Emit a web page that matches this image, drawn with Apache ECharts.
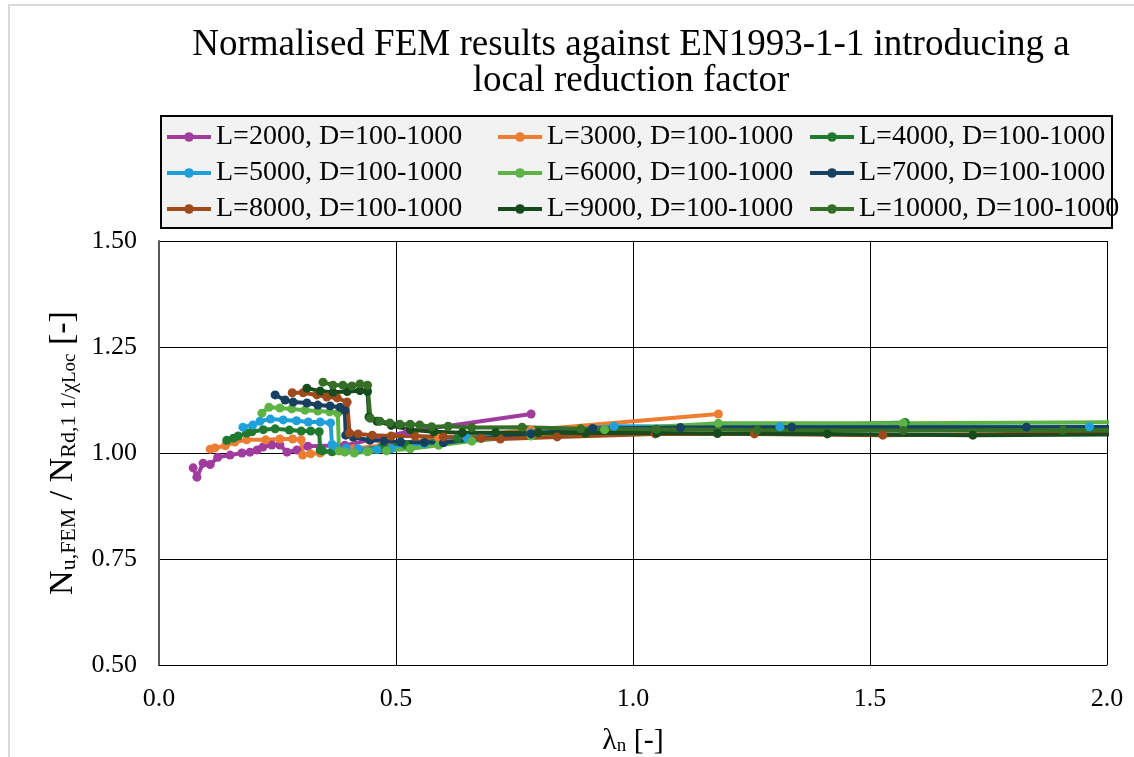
<!DOCTYPE html>
<html>
<head>
<meta charset="utf-8">
<script src="https://cdn.jsdelivr.net/npm/echarts@6/dist/echarts.min.js"></script>
<style>
  html, body { margin: 0; padding: 0; background: #ffffff; }
  #chart { width: 1134px; height: 757px; }
</style>
</head>
<body>
<div id="chart"></div>
<script>
// Normalised FEM ultimate loads vs. EN1993-1-1 resistance with a local reduction factor.
// Each series: one member length L, tube diameters D = 100..1000, as [lambda_n, N_u,FEM / N_Rd] pairs.
const L2000 = [[0.072,0.965],[0.080,0.943],[0.093,0.976],[0.108,0.973],[0.124,0.990],[0.150,0.995],[0.175,1.000],[0.192,1.002],[0.207,1.007],[0.219,1.014],[0.238,1.019],[0.255,1.019],[0.270,1.002],[0.291,1.007],[0.314,1.016],[0.392,1.018],[0.525,1.050],[0.785,1.092]];
const L3000 = [[0.108,1.009],[0.118,1.012],[0.140,1.017],[0.160,1.026],[0.185,1.031],[0.225,1.031],[0.255,1.033],[0.282,1.033],[0.300,1.031],[0.303,0.995],[0.320,0.998],[0.340,1.000],[0.370,1.005],[0.410,1.010],[0.470,1.018],[0.590,1.035],[0.785,1.054],[1.180,1.092]];
const L4000 = [[0.143,1.030],[0.157,1.035],[0.167,1.040],[0.185,1.047],[0.196,1.050],[0.220,1.055],[0.245,1.057],[0.275,1.054],[0.300,1.052],[0.320,1.052],[0.338,1.050],[0.340,1.007],[0.345,1.005],[0.365,1.003],[0.390,1.005],[0.420,1.008],[0.470,1.013],[0.520,1.020],[0.630,1.035],[0.785,1.045],[1.047,1.055],[1.574,1.072]];
const L5000 = [[0.177,1.061],[0.198,1.066],[0.213,1.075],[0.235,1.080],[0.262,1.078],[0.290,1.076],[0.315,1.073],[0.340,1.073],[0.362,1.071],[0.365,1.020],[0.372,1.015],[0.395,1.012],[0.420,1.010],[0.460,1.008],[0.490,1.010],[0.560,1.022],[0.650,1.035],[0.785,1.047],[0.960,1.063],[1.310,1.062],[1.963,1.062]];
const L6000 = [[0.217,1.094],[0.232,1.108],[0.255,1.106],[0.280,1.104],[0.308,1.101],[0.335,1.099],[0.360,1.097],[0.377,1.094],[0.380,1.005],[0.392,1.002],[0.412,1.000],[0.440,1.003],[0.480,1.005],[0.530,1.010],[0.590,1.018],[0.660,1.028],[0.785,1.040],[0.940,1.055],[1.180,1.070],[1.570,1.070],[2.355,1.075]];
const L7000 = [[0.245,1.137],[0.266,1.125],[0.283,1.120],[0.312,1.118],[0.335,1.113],[0.361,1.111],[0.382,1.108],[0.392,1.100],[0.394,1.042],[0.410,1.037],[0.445,1.030],[0.475,1.028],[0.510,1.026],[0.560,1.025],[0.600,1.024],[0.680,1.035],[0.785,1.045],[0.915,1.058],[1.100,1.060],[1.335,1.061],[1.830,1.061],[2.750,1.062]];
const L8000 = [[0.281,1.142],[0.304,1.142],[0.333,1.137],[0.354,1.132],[0.376,1.130],[0.397,1.120],[0.402,1.047],[0.420,1.045],[0.450,1.042],[0.490,1.040],[0.540,1.040],[0.600,1.038],[0.680,1.035],[0.720,1.033],[0.840,1.038],[1.047,1.045],[1.256,1.045],[1.527,1.042],[2.090,1.048],[3.140,1.050]];
const L9000 = [[0.312,1.153],[0.340,1.146],[0.367,1.143],[0.397,1.145],[0.424,1.147],[0.440,1.145],[0.443,1.085],[0.460,1.075],[0.490,1.065],[0.530,1.055],[0.580,1.050],[0.640,1.048],[0.710,1.048],[0.800,1.048],[0.900,1.047],[1.050,1.047],[1.178,1.046],[1.410,1.045],[1.717,1.042],[2.360,1.046],[3.530,1.047]];
const L10000 = [[0.346,1.167],[0.367,1.160],[0.388,1.160],[0.407,1.158],[0.424,1.163],[0.440,1.160],[0.446,1.082],[0.466,1.075],[0.487,1.071],[0.508,1.068],[0.530,1.068],[0.550,1.066],[0.575,1.062],[0.610,1.063],[0.660,1.060],[0.766,1.061],[0.890,1.057],[1.050,1.056],[1.262,1.054],[1.570,1.053],[1.907,1.054],[2.620,1.055],[3.930,1.055]];

const seriesNames = [
  'L=2000, D=100-1000', 'L=3000, D=100-1000', 'L=4000, D=100-1000',
  'L=5000, D=100-1000', 'L=6000, D=100-1000', 'L=7000, D=100-1000',
  'L=8000, D=100-1000', 'L=9000, D=100-1000', 'L=10000, D=100-1000'
];
const seriesData = [L2000, L3000, L4000, L5000, L6000, L7000, L8000, L9000, L10000];
const seriesColors = ['#A23B9E', '#ED7D31', '#1F7A30', '#1FA0DB', '#5DB344', '#173F5F', '#9E4A1A', '#174B1D', '#356E26'];

const xTicks = { min: 0, max: 2, step: 0.5 };
const yTicks = { min: 0.5, max: 1.5, step: 0.25 };

const FONT = "'Liberation Serif', 'Times New Roman', serif";
const chart = echarts.init(document.getElementById('chart'));

const legendBase = {
  orient: 'vertical',
  top: 114,
  itemWidth: 44,
  itemHeight: 12,
  itemGap: 0,
  lineStyle: { width: 4 },
  textStyle: { fontFamily: FONT, fontSize: 28, color: '#000', lineHeight: 36 },
  selectedMode: false
};

chart.setOption({
  animation: false,
  backgroundColor: '#ffffff',
  graphic: [
    { type: 'rect', z: -10, shape: { x: 9, y: 5, width: 1200, height: 800 },
      style: { fill: '#ffffff', stroke: '#d9d9d9', lineWidth: 2 } },
    { type: 'rect', z: -5, shape: { x: 161, y: 116, width: 951, height: 112 },
      style: { fill: '#f2f2f2', stroke: '#000000', lineWidth: 2 } },
    { type: 'text', x: 631, y: 45, style: { text: 'Normalised FEM results against EN1993-1-1 introducing a',
      font: '37px ' + FONT, fill: '#000', align: 'center', verticalAlign: 'middle' } },
    { type: 'text', x: 631, y: 81, style: { text: 'local reduction factor',
      font: '37px ' + FONT, fill: '#000', align: 'center', verticalAlign: 'middle' } }
  ],
  legend: [
    Object.assign({}, legendBase, { left: 160, data: [seriesNames[0], seriesNames[3], seriesNames[6]] }),
    Object.assign({}, legendBase, { left: 491, data: [seriesNames[1], seriesNames[4], seriesNames[7]] }),
    Object.assign({}, legendBase, { left: 803, data: [seriesNames[2], seriesNames[5], seriesNames[8]] })
  ],
  grid: { left: 159, right: 27, top: 241, bottom: 92, containLabel: false, outerBoundsMode: 'none' },
  xAxis: {
    type: 'value', min: xTicks.min, max: xTicks.max, interval: xTicks.step,
    name: '{n|λ}{s|n}{n| [-]}', nameLocation: 'middle', nameGap: 51,
    nameTextStyle: { rich: {
      n: { fontFamily: FONT, fontSize: 30, color: '#000', lineHeight: 40, verticalAlign: 'bottom' },
      s: { fontFamily: FONT, fontSize: 19, color: '#000', lineHeight: 16, verticalAlign: 'bottom' }
    } },
    axisLine: { show: true, lineStyle: { color: '#000', width: 1 } },
    axisTick: { show: false },
    axisLabel: { fontFamily: FONT, fontSize: 26, color: '#000', margin: 21, formatter: v => v.toFixed(1) },
    splitLine: { show: true, lineStyle: { color: '#000', width: 1 } }
  },
  yAxis: {
    type: 'value', min: yTicks.min, max: yTicks.max, interval: yTicks.step,
    name: '{n|N}{s|u,FEM}{n| / N}{s|Rd,1 1/χ}{t|Loc}{n| [-]}',
    nameLocation: 'middle', nameRotate: 90, nameGap: 79,
    nameTextStyle: { rich: {
      n: { fontFamily: FONT, fontSize: 34, color: '#000', lineHeight: 44, verticalAlign: 'bottom' },
      s: { fontFamily: FONT, fontSize: 22, color: '#000', lineHeight: 18, verticalAlign: 'bottom' },
      t: { fontFamily: FONT, fontSize: 19, color: '#000', lineHeight: 14, verticalAlign: 'bottom' }
    } },
    axisLine: { show: true, lineStyle: { color: '#595959', width: 2 } },
    axisTick: { show: false },
    axisLabel: { fontFamily: FONT, fontSize: 26, color: '#000', margin: 22, formatter: v => v.toFixed(2) },
    splitLine: { show: true, lineStyle: { color: '#000', width: 1 } }
  },
  series: seriesData.map((d, i) => ({
    name: seriesNames[i],
    type: 'line',
    data: d,
    clip: true,
    symbol: 'circle',
    symbolSize: 9,
    showAllSymbol: true,
    color: seriesColors[i],
    lineStyle: { width: 4, color: seriesColors[i] },
    itemStyle: { color: seriesColors[i] },
    emphasis: { disabled: true }
  }))
});
</script>
</body>
</html>
